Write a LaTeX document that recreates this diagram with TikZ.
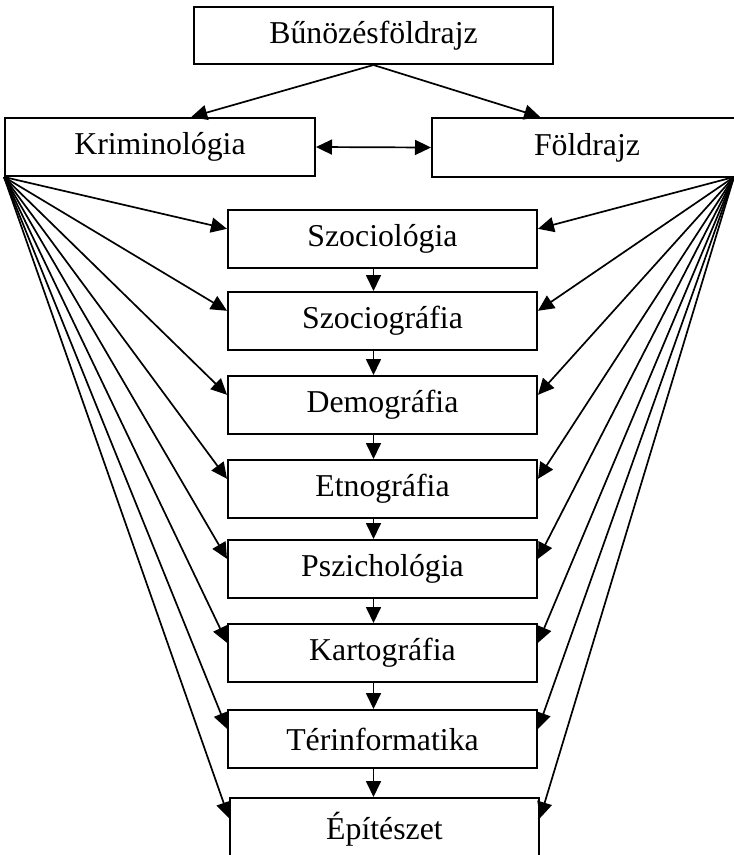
\documentclass[tikz,border=0pt]{standalone}
\usepackage{fontspec}
\setmainfont{Liberation Serif}
\usetikzlibrary{arrows.meta,calc}
\begin{document}
\begin{tikzpicture}[x=1pt,y=-1pt,
  box/.style={draw,line width=2pt,rectangle,inner sep=0pt,font=\fontsize{31.8}{38}\selectfont},
  sbox/.style={box,minimum width=309pt,minimum height=58pt},
  tip/.tip={Triangle[length=16pt,width=15pt]},
  arr/.style={line width=1.7pt,-tip}]
\useasboundingbox (0,0) rectangle (734,855);
\clip (0,0) rectangle (734,855);
\fill[white] (0,0) rectangle (734,855);
\node[box,minimum width=359pt,minimum height=57pt] (top) at (373.5,35.5) {Bűnözésföldrajz};
\node[box,minimum width=310pt,minimum height=58pt] (krim) at (160,147) {Kriminológia};
\node[box,minimum width=310pt,minimum height=59pt] (fold) at (587,147.5) {Földrajz};
\node[sbox] (s1) at (382.5,239) {Szociológia};
\node[sbox] (s2) at (382.5,321) {Szociográfia};
\node[sbox] (s3) at (382.5,405) {Demográfia};
\node[sbox] (s4) at (382.5,489) {Etnográfia};
\node[sbox] (s5) at (382.5,569) {Pszichológia};
\node[sbox] (s6) at (382.5,653) {Kartográfia};
\node[sbox] (s7) at (382.5,739) {Térinformatika};
\node[box,minimum width=309pt,minimum height=62pt] (s8) at (384.5,829) {Építészet};
\coordinate (L) at (krim.south west);
\coordinate (R) at (734,177);
\draw[arr] (top.south) -- ($(krim.north west)!0.6!(krim.north east)$);
\draw[arr] (top.south) -- ($(fold.north west)!0.35!(fold.north east)$);
\draw[line width=1.7pt,tip-tip] (krim.east) -- (fold.west);
\foreach \n in {s1,s2,s3,s4,s5,s6,s7,s8}{
  \draw[arr] (L) -- ($(\n.north west)!0.33!(\n.south west)$);
  \draw[arr] (R) -- ($(\n.north east)!0.33!(\n.south east)$);
}
\foreach \a/\b in {s1/s2,s2/s3,s3/s4,s4/s5,s5/s6,s6/s7,s7/s8}{
  \draw[arr] (\a.south -| top.south) -- (\b.north -| top.south);
}
\end{tikzpicture}
\end{document}
